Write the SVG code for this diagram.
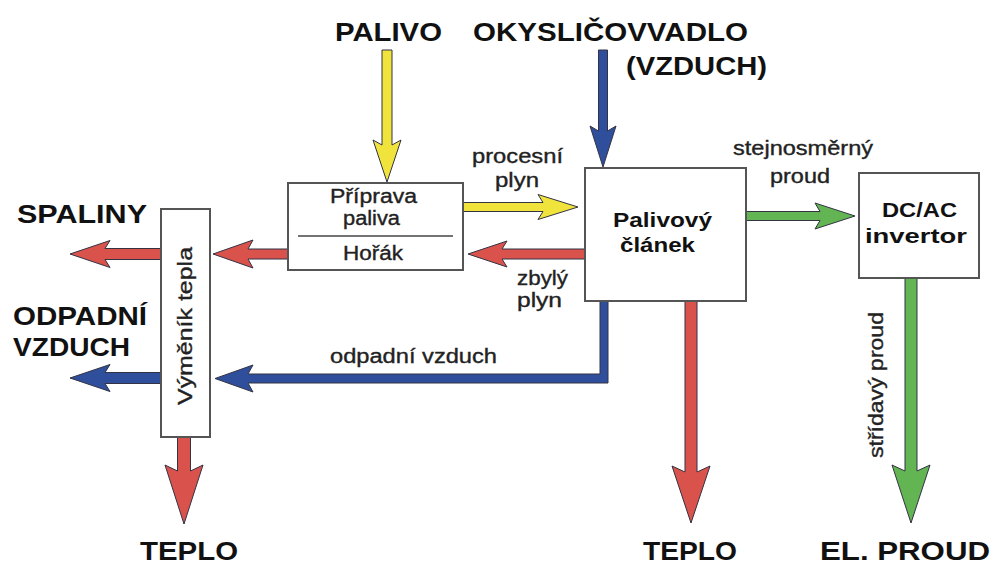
<svg xmlns="http://www.w3.org/2000/svg" width="994" height="567" viewBox="0 0 994 567">
<style>
.box{fill:#fff;stroke:#555;stroke-width:2}
.big{font-family:"Liberation Sans",Arial,sans-serif;font-weight:bold;font-size:25px;fill:#111}
.lbl{font-family:"Liberation Sans",Arial,sans-serif;font-size:19.5px;fill:#222;stroke:#222;stroke-width:0.35}
.bold{font-family:"Liberation Sans",Arial,sans-serif;font-weight:bold;font-size:21px;fill:#111}
.arr{stroke:#333344;stroke-width:1;stroke-linejoin:miter}
.y{fill:#f0e43c}
.r{fill:#d9524c}
.b{fill:#2f4f9c}
.g{fill:#62b552}
</style>
<rect width="994" height="567" fill="#fff"/>
<g id="connectors">
  <polygon class="arr y" points="382,50 392,50 392,145 401,140 387,182 373,140 382,145"/>
  <polygon class="arr b" points="598.5,50 607.5,50 607.5,131 616,126 603,167 590,126 598.5,131"/>
  <polygon class="arr y" points="463,202.5 543,202.5 538,194.5 578,207 538,219.5 543,211.5 463,211.5"/>
  <polygon class="arr r" points="585,249 502,249 507,241 468,254 507,267 502,259 585,259"/>
  <polygon class="arr r" points="288,249 248,249 253,240 213,254 253,268 248,259 288,259"/>
  <polygon class="arr r" points="161,248.5 105,248.5 110,240.5 70,254 110,267.5 105,259.5 161,259.5"/>
  <polygon class="arr b" points="161,372.5 105,372.5 110,364.5 70,378 110,391.5 105,383.5 161,383.5"/>
  <polygon class="arr b" points="600,301 608,301 608,383 248,383 253,392 215,378.5 253,365 248,374 600,374"/>
  <polygon class="arr r" points="685,301 697,301 697,472 710,466 691,523 672,466 685,472"/>
  <polygon class="arr r" points="177.5,437 190.5,437 190.5,471 203,465 184,524 165,465 177.5,471"/>
  <polygon class="arr g" points="746,211.5 820,211.5 815,203 855,216 815,229 820,220.5 746,220.5"/>
  <polygon class="arr g" points="905,278 917,278 917,471 930,465 911,523 892,465 905,471"/>
  <text class="lbl" x="472" y="163" textLength="91" lengthAdjust="spacingAndGlyphs">procesní</text>
  <text class="lbl" x="495" y="187" textLength="44" lengthAdjust="spacingAndGlyphs">plyn</text>
  <text class="lbl" x="517" y="285" textLength="51" lengthAdjust="spacingAndGlyphs">zbylý</text>
  <text class="lbl" x="517" y="307" textLength="45" lengthAdjust="spacingAndGlyphs">plyn</text>
  <text class="lbl" x="733" y="155" textLength="140" lengthAdjust="spacingAndGlyphs">stejnosměrný</text>
  <text class="lbl" x="770" y="183" textLength="60" lengthAdjust="spacingAndGlyphs">proud</text>
  <text class="lbl" x="330" y="363" textLength="167" lengthAdjust="spacingAndGlyphs">odpadní vzduch</text>
  <text class="lbl" transform="translate(883,458) rotate(-90)" textLength="146" lengthAdjust="spacingAndGlyphs">střídavý proud</text>
</g>
<g id="priprava">
  <rect class="box" x="288" y="183" width="175" height="87"/>
  <line x1="298" y1="236" x2="453" y2="236" stroke="#444" stroke-width="1.5"/>
  <text class="lbl" x="330" y="203" textLength="87" lengthAdjust="spacingAndGlyphs">Příprava</text>
  <text class="lbl" x="343" y="225" textLength="57" lengthAdjust="spacingAndGlyphs">paliva</text>
  <text class="lbl" x="343" y="260" textLength="60" lengthAdjust="spacingAndGlyphs">Hořák</text>
</g>
<g id="vymenik">
  <rect class="box" x="161" y="209" width="49" height="228"/>
  <text class="lbl" font-size="20" transform="translate(192,405) rotate(-90)" textLength="158" lengthAdjust="spacingAndGlyphs">Výměník tepla</text>
</g>
<g id="clanek">
  <rect class="box" x="585" y="168" width="161" height="133"/>
  <text class="bold" x="613" y="227" textLength="99" lengthAdjust="spacingAndGlyphs">Palivový</text>
  <text class="bold" x="620" y="252" textLength="75" lengthAdjust="spacingAndGlyphs">článek</text>
</g>
<g id="invertor">
  <rect class="box" x="859" y="173" width="120" height="105"/>
  <text class="bold" x="882" y="217" textLength="75" lengthAdjust="spacingAndGlyphs">DC/AC</text>
  <text class="bold" x="865" y="243" textLength="102" lengthAdjust="spacingAndGlyphs">invertor</text>
</g>
<g id="palivo"><text class="big" x="335" y="41" textLength="107" lengthAdjust="spacingAndGlyphs">PALIVO</text></g>
<g id="okyslicovadlo">
  <text class="big" x="473" y="41" textLength="275" lengthAdjust="spacingAndGlyphs">OKYSLIČOVVADLO</text>
  <text class="big" x="626" y="75" textLength="141" lengthAdjust="spacingAndGlyphs">(VZDUCH)</text>
</g>
<g id="spaliny"><text class="big" x="17" y="223" textLength="130" lengthAdjust="spacingAndGlyphs">SPALINY</text></g>
<g id="odpadni-vzduch">
  <text class="big" x="13" y="325" textLength="134" lengthAdjust="spacingAndGlyphs">ODPADNÍ</text>
  <text class="big" x="13" y="356" textLength="117" lengthAdjust="spacingAndGlyphs">VZDUCH</text>
</g>
<g id="teplo1"><text class="big" x="140" y="560" textLength="98" lengthAdjust="spacingAndGlyphs">TEPLO</text></g>
<g id="teplo2"><text class="big" x="643" y="560" textLength="94" lengthAdjust="spacingAndGlyphs">TEPLO</text></g>
<g id="el-proud"><text class="big" x="820" y="560" textLength="170" lengthAdjust="spacingAndGlyphs">EL. PROUD</text></g>
</svg>
